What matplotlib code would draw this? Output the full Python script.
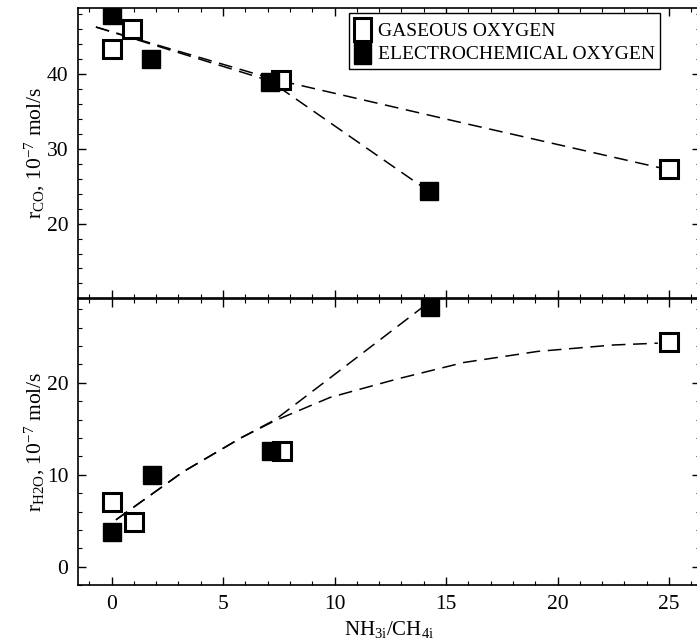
import numpy as np
import matplotlib
matplotlib.use("Agg")
import matplotlib.pyplot as plt
from matplotlib.ticker import MultipleLocator
from matplotlib.patches import Patch

plt.rcParams["font.family"] = "Liberation Serif"
plt.rcParams["mathtext.fontset"] = "custom"
plt.rcParams["mathtext.rm"] = "Liberation Serif"
plt.rcParams["mathtext.it"] = "Liberation Serif"

# --- data ---
# top panel: r_CO
co_gas_x = [0.0, 0.9, 7.6, 25.0]
co_gas_y = [43.3, 46.1, 39.2, 27.3]
co_el_x = [0.0, 1.75, 7.1, 14.25]
co_el_y = [47.9, 42.0, 39.0, 24.3]
# dashed fit lines (top)
co_gas_fit_x = [-0.7, 7.3, 16.0, 24.7]
co_gas_fit_y = [46.3, 39.3, 33.3, 27.4]
co_el_fit_x = [-0.7, 7.1, 14.0]
co_el_fit_y = [46.3, 39.1, 24.8]

# bottom panel: r_H2O
h2o_gas_x = [0.0, 1.0, 7.65, 25.0]
h2o_gas_y = [7.0, 4.9, 12.6, 24.4]
h2o_el_x = [0.0, 1.8, 7.15, 14.3]
h2o_el_y = [3.8, 10.0, 12.6, 28.2]
# dashed fit lines (bottom)
h2o_gas_fit_x = [0.2, 3.2, 5.8, 7.35, 9.8, 12.8, 15.8, 19.1, 22.5, 24.5]
h2o_gas_fit_y = [5.1, 10.3, 14.0, 15.9, 18.4, 20.4, 22.2, 23.4, 24.1, 24.3]
h2o_el_fit_x = [0.2, 3.2, 5.8, 7.35, 10.6, 14.0]
h2o_el_fit_y = [5.1, 10.3, 14.0, 16.0, 22.0, 28.3]

labels = ["GASEOUS OXYGEN", "ELECTROCHEMICAL OXYGEN"]

fig = plt.figure(figsize=(6.97, 6.43), dpi=100)
ax1 = fig.add_axes([0.112, 0.536, 0.892, 0.451])
ax2 = fig.add_axes([0.112, 0.090, 0.892, 0.445])

open_kw = dict(ls="none", marker="s", ms=13, mfc="white", mec="black", mew=2.2)
fill_kw = dict(ls="none", marker="s", ms=13, mfc="black", mec="black", mew=1)
line_kw = dict(color="black", lw=1.1, dashes=(9, 5))

# top panel
ax1.plot(co_gas_fit_x, co_gas_fit_y, **line_kw)
ax1.plot(co_el_fit_x, co_el_fit_y, **line_kw)
ax1.plot(co_gas_x, co_gas_y, **open_kw)
ax1.plot(co_el_x, co_el_y, **fill_kw)
ax1.set_ylim(10, 48.8)
ax1.set_yticks([20, 30, 40])
ax1.set_ylabel(r"$\mathrm{r_{CO}}$, $\mathrm{10^{-7}}$ mol/s", fontsize=15.5, labelpad=0)

# bottom panel
ax2.plot(h2o_gas_fit_x, h2o_gas_fit_y, **line_kw)
ax2.plot(h2o_el_fit_x, h2o_el_fit_y, **line_kw)
ax2.plot(h2o_gas_x, h2o_gas_y, **open_kw)
ax2.plot(h2o_el_x, h2o_el_y, **fill_kw)
ax2.set_ylim(-2, 29.1)
ax2.set_yticks([0, 10, 20])
ax2.set_ylabel(r"$\mathrm{r_{H2O}}$, $\mathrm{10^{-7}}$ mol/s", fontsize=15.5, labelpad=0)
ax2.set_xlabel(r"$\mathrm{NH_{3i}/CH_{4i}}$", fontsize=15, labelpad=4)

for ax in (ax1, ax2):
    ax.set_xlim(-1.5, 26.38)
    ax.xaxis.set_major_locator(MultipleLocator(5))
    ax.xaxis.set_minor_locator(MultipleLocator(1))
    ax.yaxis.set_minor_locator(MultipleLocator(2))
    ax.tick_params(which="both", direction="in", top=True, right=True, labelsize=15.5)
    ax.tick_params(which="major", length=6, width=1, pad=7)
    ax.tick_params(which="minor", length=3, width=0.8)
    for s in ax.spines.values():
        s.set_linewidth(1.2)
ax1.tick_params(labelbottom=False)

handles = [Patch(facecolor="white", edgecolor="black", lw=2.2),
           Patch(facecolor="black", edgecolor="black", lw=1)]
leg = ax1.legend(handles, labels, loc="upper left",
                 bbox_to_anchor=(0.436, 0.985), borderaxespad=0,
                 fontsize=14, labelspacing=0.0, handlelength=0.85,
                 handleheight=1.45, handletextpad=0.4, fancybox=False,
                 framealpha=1, edgecolor="black", borderpad=0.25)
leg.get_frame().set_linewidth(1.0)

fig.savefig("out.png", dpi=100)
